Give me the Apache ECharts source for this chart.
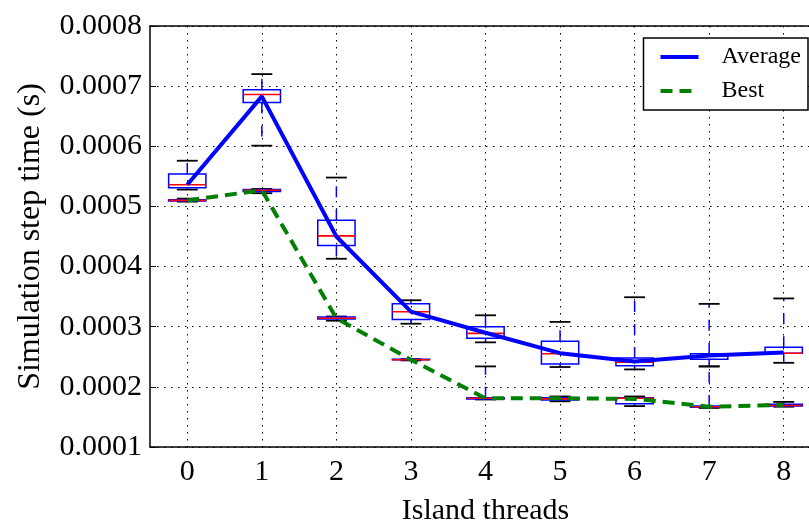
<!DOCTYPE html>
<html>
<head>
<meta charset="utf-8">
<script src="https://cdn.jsdelivr.net/npm/echarts@6/dist/echarts.min.js"></script>
<style>
  html, body { margin: 0; padding: 0; background: #fff; }
  #chart { width: 809px; height: 524px; }
</style>
</head>
<body>
<div id="chart"></div>
<script>
// island threads on the x axis
let threads = ['0', '1', '2', '3', '4', '5', '6', '7', '8'];
// mean lines
let avgMean = [0.000536, 0.000683, 0.000450, 0.000325, 0.000290, 0.000256, 0.000242, 0.000252, 0.000257];
let bestMean = [0.000510, 0.000527, 0.000314, 0.000245, 0.000181, 0.000181, 0.000180, 0.000167, 0.000170];
// boxes: [low, q1, median, q3, high]
let avgBox = [
    [0.000528, 0.000531, 0.000536, 0.000554, 0.000576],
    [0.000601, 0.000673, 0.000686, 0.000694, 0.000720],
    [0.000413, 0.000435, 0.000451, 0.000477, 0.000548],
    [0.000305, 0.000312, 0.000325, 0.000338, 0.000344],
    [0.000274, 0.000281, 0.000289, 0.000300, 0.000319],
    [0.000233, 0.000238, 0.000255, 0.000276, 0.000308],
    [0.000229, 0.000235, 0.000241, 0.000248, 0.000349],
    [0.000234, 0.000246, 0.000251, 0.000255, 0.000338],
    [0.000240, 0.000256, 0.000256, 0.000266, 0.000347]
];
let bestBox = [
    [0.000508, 0.000509, 0.000510, 0.000511, 0.000513],
    [0.000522, 0.000525, 0.000527, 0.000528, 0.000529],
    [0.000310, 0.000313, 0.000314, 0.000316, 0.000317],
    [0.000244, 0.000245, 0.000245, 0.000246, 0.000246],
    [0.000179, 0.000180, 0.000181, 0.000182, 0.000234],
    [0.000176, 0.000178, 0.000180, 0.000182, 0.000184],
    [0.000168, 0.000172, 0.000181, 0.000182, 0.000184],
    [0.000165, 0.000166, 0.000167, 0.000168, 0.000234],
    [0.000167, 0.000168, 0.000169, 0.000171, 0.000175]
];

let serif = '"Liberation Serif", "DejaVu Serif", serif';
let dots = { color: '#000', width: 1, type: [1.5, 5.5] };

// box with dashed whiskers, black caps and red median
function drawBox(params, api) {
    let x = api.value(0);
    let low = api.coord([x, api.value(1)]);
    let q1 = api.coord([x, api.value(2)]);
    let med = api.coord([x, api.value(3)]);
    let q3 = api.coord([x, api.value(4)]);
    let high = api.coord([x, api.value(5)]);
    let band = api.size([1, 0])[0];
    let bw = band * 0.25, cw = band * 0.14;
    let cx = low[0];
    let whisker = { stroke: '#0000ff', lineWidth: 1.5, lineDash: [11, 12] };
    let cap = { stroke: '#000', lineWidth: 1.8 };
    return {
        type: 'group',
        children: [
            { type: 'line', shape: { x1: cx, y1: q3[1], x2: cx, y2: high[1] }, style: whisker },
            { type: 'line', shape: { x1: cx, y1: q1[1], x2: cx, y2: low[1] }, style: whisker },
            { type: 'line', shape: { x1: cx - cw, y1: high[1], x2: cx + cw, y2: high[1] }, style: cap },
            { type: 'line', shape: { x1: cx - cw, y1: low[1], x2: cx + cw, y2: low[1] }, style: cap },
            { type: 'rect', shape: { x: cx - bw, y: q3[1], width: bw * 2, height: Math.max(q1[1] - q3[1], 0.5) },
              style: { fill: 'none', stroke: '#0000ff', lineWidth: 1.5 } },
            { type: 'line', shape: { x1: cx - bw, y1: med[1], x2: cx + bw, y2: med[1] },
              style: { stroke: '#ff0000', lineWidth: 1.6 } }
        ]
    };
}

function boxData(rows) {
    return rows.map(function (r, i) { return [i].concat(r); });
}

let myEcharts = echarts.init(document.getElementById('chart'));
let option = {
    animation: false,
    backgroundColor: '#fff',
    grid: { left: 150, top: 26, right: -12, bottom: 77, outerBoundsMode: 'none' },
    legend: {
        data: [
            { name: 'Average', lineStyle: { color: '#0000ff', width: 4, type: 'solid' } },
            { name: 'Best', lineStyle: { color: '#008000', width: 4, type: [12, 7] } }
        ],
        orient: 'vertical',
        right: 1,
        top: 38,
        padding: [7, 7, 7, 15],
        itemGap: 10,
        itemWidth: 38,
        itemHeight: 20,
        itemStyle: { opacity: 0 },
        borderColor: '#000',
        borderWidth: 1.5,
        borderRadius: 0,
        backgroundColor: '#fff',
        textStyle: { fontFamily: serif, fontSize: 24, color: '#000', padding: [0, 0, 0, 18] }
    },
    xAxis: [
        {
            type: 'category',
            data: threads,
            boundaryGap: true,
            name: 'Island threads',
            nameLocation: 'middle',
            nameGap: 49,
            nameTextStyle: { fontFamily: serif, fontSize: 30, color: '#000' },
            axisLine: { lineStyle: { color: '#000', width: 1.5 } },
            axisTick: { inside: true, length: 6, alignWithLabel: true, lineStyle: { color: '#000', width: 1 } },
            axisLabel: { fontFamily: serif, fontSize: 30, color: '#000', margin: 10 },
            splitLine: { show: true, alignWithLabel: true, lineStyle: dots }
        },
        {
            type: 'category',
            data: threads,
            position: 'top',
            boundaryGap: true,
            axisLine: { lineStyle: { color: '#000', width: 1.5 } },
            axisTick: { inside: true, length: 6, alignWithLabel: true, lineStyle: { color: '#000', width: 1 } },
            axisLabel: { show: false },
            splitLine: { show: false }
        }
    ],
    yAxis: {
        type: 'value',
        min: 0.0001,
        max: 0.0008,
        interval: 0.0001,
        name: 'Simulation step time (s)',
        nameLocation: 'middle',
        nameGap: 103,
        nameTextStyle: { fontFamily: serif, fontSize: 32, color: '#000' },
        axisLine: { show: true, lineStyle: { color: '#000', width: 1.5 } },
        axisTick: { show: true, inside: true, length: 6, lineStyle: { color: '#000', width: 1 } },
        axisLabel: {
            fontFamily: serif, fontSize: 30, color: '#000', margin: 8,
            formatter: function (v) { return v.toFixed(4); }
        },
        splitLine: { show: true, lineStyle: dots }
    },
    series: [
        {
            name: 'avgBox',
            type: 'custom',
            renderItem: drawBox,
            encode: { x: 0, y: [1, 2, 3, 4, 5] },
            data: boxData(avgBox),
            z: 2
        },
        {
            name: 'bestBox',
            type: 'custom',
            renderItem: drawBox,
            encode: { x: 0, y: [1, 2, 3, 4, 5] },
            data: boxData(bestBox),
            z: 2
        },
        {
            name: 'Average',
            type: 'line',
            data: avgMean,
            symbol: 'none',
            color: '#0000ff',
            lineStyle: { color: '#0000ff', width: 4 },
            z: 3
        },
        {
            name: 'Best',
            type: 'line',
            data: bestMean,
            symbol: 'none',
            color: '#008000',
            lineStyle: { color: '#008000', width: 4, type: [12, 7] },
            z: 3
        }
    ]
};
myEcharts.setOption(option);
</script>
</body>
</html>
